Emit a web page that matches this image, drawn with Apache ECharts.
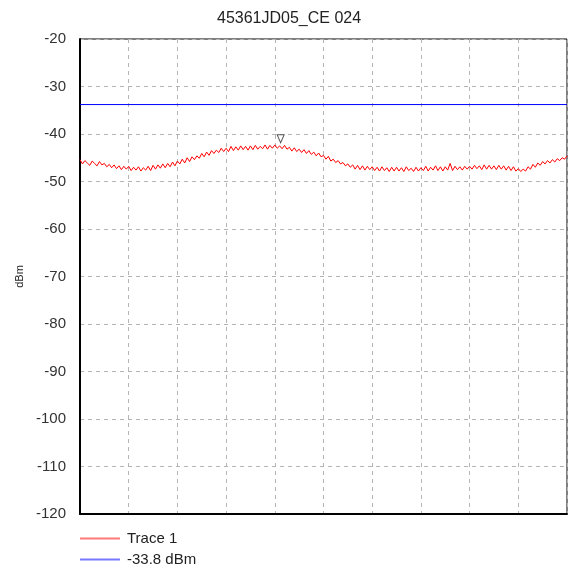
<!DOCTYPE html>
<html>
<head>
<meta charset="utf-8">
<script src="https://cdn.jsdelivr.net/npm/echarts@6/dist/echarts.min.js"></script>
<style>
html,body{margin:0;padding:0;background:#fff;}
#c{width:568px;height:567px;}
</style>
</head>
<body>
<div id="c"></div>
<script>
var titleText = "45361JD05_CE 024";
var yName = "dBm";
var xStep = 5;
var traceValues = [
-45.4,-46.3,-45.6,-46.1,-46.6,-45.7,-46.2,-46.7,-45.8,-46.5,
-46.2,-46.9,-46.4,-47.1,-46.5,-47.3,-46.7,-47.5,-46.8,-47.4,
-46.8,-47.7,-47.0,-47.6,-46.9,-47.8,-47.1,-47.6,-46.8,-47.7,
-46.6,-47.4,-46.5,-47.2,-46.3,-47.1,-46.2,-46.9,-45.9,-46.7,
-45.7,-46.3,-45.3,-46.1,-45.0,-45.8,-44.8,-45.4,-44.6,-45.1,
-44.1,-44.8,-43.8,-44.5,-43.5,-44.1,-43.4,-43.9,-43.0,-43.7,
-43.0,-43.7,-42.6,-43.5,-42.7,-43.4,-42.5,-43.3,-42.6,-43.4,
-42.5,-43.3,-42.4,-43.2,-42.6,-43.1,-42.3,-43.2,-42.4,-43.0,
-42.3,-43.0,-42.5,-43.1,-42.4,-43.2,-42.8,-43.6,-42.9,-43.7,
-43.2,-43.9,-43.3,-44.1,-43.5,-44.3,-43.8,-44.6,-44.0,-44.8,
-44.5,-45.3,-44.7,-45.7,-45.3,-46.0,-45.6,-46.3,-46.0,-46.7,
-46.3,-47.0,-46.5,-47.4,-46.6,-47.5,-46.7,-47.6,-46.8,-47.5,
-46.9,-47.7,-47.0,-47.8,-46.9,-47.7,-47.1,-47.9,-47.0,-47.8,
-47.0,-47.8,-47.1,-47.9,-46.9,-47.7,-47.2,-47.9,-47.0,-47.8,
-47.1,-47.7,-46.8,-47.8,-47.0,-47.6,-46.7,-47.7,-46.9,-47.8,
-46.9,-47.6,-46.2,-47.7,-46.8,-47.5,-46.9,-47.6,-46.8,-47.4,
-46.8,-47.4,-46.6,-47.3,-46.7,-47.5,-46.5,-47.4,-46.6,-47.4,
-46.7,-47.5,-46.6,-47.4,-46.7,-47.6,-46.8,-47.7,-46.9,-47.8,
-47.3,-47.9,-47.4,-47.8,-46.9,-47.4,-46.4,-47.0,-46.1,-46.6,
-45.8,-46.3,-45.6,-46.1,-45.4,-45.9,-45.2,-45.6,-45.0,-45.3,
-44.6
];
var limitValue = -33.8;
var limitX = [0, 1000];
var markerX = 412;
var markerY = -42.7;
var seriesNames = ["Trace 1", "-33.8 dBm"];

var traceData = traceValues.map(function(v, i){ return [i * xStep, v]; });
var limitData = limitX.map(function(x){ return [x, limitValue]; });

var legendCommon = {
  orient: 'horizontal', left: 75,
  itemWidth: 40, itemHeight: 2, icon: 'rect',
  textStyle: {fontSize: 15, color: '#222', padding: [0,0,0,2]}
};

var chart = echarts.init(document.getElementById('c'), null, {renderer:'canvas'});
chart.setOption({
  animation: false,
  backgroundColor: '#fff',
  textStyle: {fontFamily: 'Liberation Sans, Arial, sans-serif'},
  title: {
    text: titleText, left: 212, top: 6,
    textStyle: {fontSize: 16, fontWeight: 'normal', color: '#222', fontFamily: 'Liberation Sans, Arial, sans-serif'}
  },
  legend: [
    Object.assign({}, legendCommon, {top: 526, data: [{name: seriesNames[0], itemStyle: {color: '#ff7878'}}]}),
    Object.assign({}, legendCommon, {top: 547, data: [{name: seriesNames[1], itemStyle: {color: '#7878ff'}}]})
  ],
  grid: {left: 80, right: 1, top: 39, bottom: 53, show: true, borderColor: '#000', borderWidth: 1},
  xAxis: {
    type: 'value', min: 0, max: 1000, interval: 100,
    axisLabel: {show: false}, axisTick: {show: false},
    axisLine: {show: true, onZero: false, lineStyle: {color: '#000', width: 2}},
    splitLine: {show: true, lineStyle: {color: '#b4b4b4', type: [4, 4], width: 1}}
  },
  yAxis: {
    type: 'value', min: -120, max: -20, interval: 10,
    name: yName, nameLocation: 'middle', nameRotate: 90, nameGap: 55,
    nameTextStyle: {fontSize: 11, color: '#222'},
    axisLabel: {fontSize: 15, color: '#333', margin: 14},
    axisTick: {show: false},
    axisLine: {show: true, lineStyle: {color: '#000', width: 2}},
    splitLine: {show: true, lineStyle: {color: '#b4b4b4', type: [4, 4], width: 1}}
  },
  series: [
    {
      name: seriesNames[0], type: 'line', data: traceData, showSymbol: false,
      lineStyle: {color: '#ff0000', width: 1}, itemStyle: {color: '#ff0000'},
      markPoint: {
        symbol: 'triangle', symbolRotate: 180, symbolSize: [7, 8], symbolOffset: [0, -8],
        itemStyle: {color: '#fff', borderColor: '#555', borderWidth: 1},
        label: {show: false},
        data: [{coord: [markerX, markerY]}]
      }
    },
    {
      name: seriesNames[1], type: 'line', data: limitData, showSymbol: false,
      lineStyle: {color: '#0000ff', width: 1}, itemStyle: {color: '#0000ff'}
    }
  ]
});
</script>
</body>
</html>
